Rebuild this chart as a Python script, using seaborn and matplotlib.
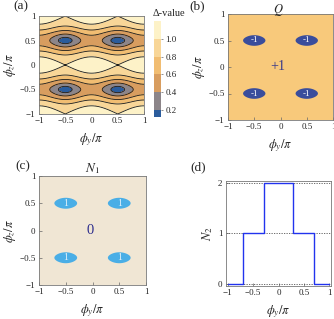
import numpy as np
import matplotlib
matplotlib.use('Agg')
import matplotlib.pyplot as plt
import seaborn as sns

# phase grid, in units of pi
phi_y = np.linspace(-1, 1, 601)
phi_z = np.linspace(-1, 1, 601)

# gap model: Delta^2 = cos^2(pi phi_z) + c * cos^2(pi phi_y)
gap_coupling = 0.25
node_threshold = 0.31

gap_levels = [0.0, 0.2, 0.4, 0.6, 0.8, 1.0, 1.2]
gap_colors = ['#2b5c9c', '#8c8589', '#d89d5f', '#f1bd72', '#f8d698', '#fdf2c8']
cbar_ticks = [0.2, 0.4, 0.6, 0.8, 1.0]
cbar_labels = ['0.2', '0.4', '0.6', '0.8', '1.0']

node_y = [-0.5, 0.5, -0.5, 0.5]
node_z = [0.5, 0.5, -0.5, -0.5]
q_node, q_bulk = '-1', '+1'
n1_node, n1_bulk = '1', '0'

# panel (d): N2 along phi_y
step_phi = [-1.0, -0.7, -0.29, 0.29, 0.7, 1.0]
step_n2 = [0, 1, 2, 1, 0, 0]
n2_ticks = [0, 1, 2]

ticks = [-1, -0.5, 0, 0.5, 1]
tick_labels = ['\u22121', '\u22120.5', '0', '0.5', '1']

sns.set_theme(style='ticks')
plt.rcParams['font.family'] = ['Liberation Serif', 'DejaVu Serif']
plt.rcParams['mathtext.fontset'] = 'stix'

PY, PZ = np.meshgrid(phi_y, phi_z)
gap = np.sqrt(np.cos(np.pi * PZ) ** 2 + gap_coupling * np.cos(np.pi * PY) ** 2)

W, H = 334, 319
fig = plt.figure(figsize=(W / 100, H / 100), dpi=100)


def box(l, t, r, b):
    return [l / W, 1 - b / H, (r - l) / W, (b - t) / H]


def style(ax, xl=(-1, 1), yl=(-1, 1)):
    ax.set_xlim(*xl)
    ax.set_ylim(*yl)
    ax.set_xticks(ticks)
    ax.set_xticklabels(tick_labels)
    ax.tick_params(direction='in', length=2.5, width=0.5, color='#666666',
                   labelsize=6.5, pad=2.5)
    for s in ax.spines.values():
        s.set_color('#777777')
        s.set_linewidth(0.6)
    ax.set_xlabel(r'$\phi_y/\pi$', fontsize=9, labelpad=4)


ax_a = fig.add_axes(box(39, 16, 144, 114))
cax = fig.add_axes(box(154, 21, 161, 117))
ax_b = fig.add_axes(box(228, 14, 333, 120))
ax_c = fig.add_axes(box(39, 176, 146, 285))
ax_d = fig.add_axes(box(226, 181, 331, 286))

# (a) gap contour map
cs = ax_a.contourf(PY, PZ, gap, levels=gap_levels, colors=gap_colors)
ax_a.contour(PY, PZ, gap, levels=gap_levels[1:-1], colors='k', linewidths=0.6)
style(ax_a)
ax_a.set_yticks(ticks)
ax_a.set_yticklabels(tick_labels)
ax_a.set_ylabel(r'$\phi_z/\pi$', fontsize=9, labelpad=1)

cb = fig.colorbar(cs, cax=cax, ticks=cbar_ticks)
cb.ax.set_yticklabels(cbar_labels)
cb.ax.set_ylim(0.12, 1.2)
cb.outline.set_visible(False)
cb.ax.tick_params(length=1.5, width=0.5, labelsize=6.5, pad=1.5, color='#666666')
fig.text(153 / W, 1 - 13 / H, '\u0394-value', fontsize=7.5, ha='left', va='center')

# (b) charge Q
ax_b.set_facecolor('#f8c97b')
ax_b.contourf(PY, PZ, gap, levels=[0, node_threshold], colors=['#3a4d9c'],
              antialiased=True)
for y, z in zip(node_y, node_z):
    ax_b.text(y, z, q_node, color='white', fontsize=6.5, ha='center', va='center')
ax_b.text(-0.05, 0, q_bulk, color='#3b3b8a', fontsize=10, ha='center', va='center')
style(ax_b)
ax_b.set_yticks(ticks)
ax_b.set_yticklabels(tick_labels)
ax_b.set_ylabel(r'$\phi_z/\pi$', fontsize=9, labelpad=1)
fig.text(278 / W, 1 - 1.5 / H, r'$Q$', fontsize=9, ha='center', va='top')

# (c) N1
ax_c.set_facecolor('#f0e6d4')
ax_c.contourf(PY, PZ, gap, levels=[0, node_threshold], colors=['#4aaee6'],
              antialiased=True)
for y, z in zip(node_y, node_z):
    ax_c.text(y, z, n1_node, color='#dff0fa', fontsize=7, ha='center', va='center')
ax_c.text(-0.05, 0, n1_bulk, color='#2c2c8c', fontsize=10.5, ha='center', va='center')
style(ax_c)
ax_c.set_yticks(ticks)
ax_c.set_yticklabels(tick_labels)
ax_c.set_ylabel(r'$\phi_z/\pi$', fontsize=9, labelpad=1)
ax_c.set_title(r'$N_1$', fontsize=9.5, pad=1.5)

# (d) N2 step profile
for n in n2_ticks:
    ax_d.axhline(n, color='#555555', lw=0.6, ls=(0, (1.5, 1.5)), zorder=1)
sns.lineplot(x=step_phi, y=step_n2, ax=ax_d, drawstyle='steps-post',
             color='#2233ee', lw=1.0, zorder=3)
style(ax_d, xl=(-1.03, 1.03), yl=(-0.04, 2.03))
ax_d.set_yticks(n2_ticks)
ax_d.set_yticklabels([str(n) for n in n2_ticks])
ax_d.set_ylabel(r'$N_2$', fontsize=9, labelpad=2)

# panel letters
for lbl, x, y in [('(a)', 13, 6), ('(b)', 189, 6), ('(c)', 15, 166), ('(d)', 190, 167)]:
    fig.text(x / W, 1 - y / H, lbl, fontsize=9.5, ha='left', va='center')

fig.savefig('out.png', dpi=100)
